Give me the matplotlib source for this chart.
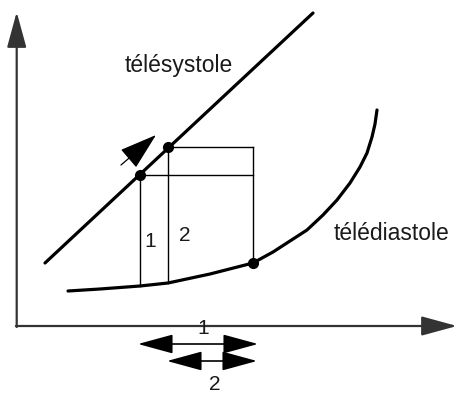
import matplotlib
matplotlib.use("Agg")
import matplotlib.pyplot as plt

# schematic drawn in pixel-like units (x to the right, y downwards)
systole_x = [45, 313]
systole_y = [263, 13]

diastole_x = [68, 100, 140, 168, 210, 253, 273, 290, 307, 323, 337, 350, 360, 367, 372, 375, 377]
diastole_y = [291, 289, 286, 283, 274, 263, 252, 241, 230, 215, 200, 183, 167, 153, 137, 124, 110]

# end-systolic points (1, 2) and end-diastolic point
es_x = [140, 168]
es_y = [175, 147]
ed_x = 253
ed_y = 263
# foot of each ejection line on the diastolic curve
foot_y = [286, 283]

labels_in = ["1", "2"]
labels_in_x = [150, 185]
labels_in_y = [241, 235]

# stroke volume arrows under the x axis
sv_left = [138, 167]
sv_right = [258, 257]
sv_y = [344, 361]
sv_labels = ["1", "2"]
sv_label_x = [203, 215]
sv_label_y = [329, 385]

plt.rcParams['font.family'] = ['Liberation Sans', 'DejaVu Sans']

fig = plt.figure(figsize=(4.59, 3.94), dpi=100)
ax = fig.add_axes([0, 0, 1, 1])
ax.set_xlim(0, 459)
ax.set_ylim(394, 0)
ax.axis('off')

axis_col = '#333333'
txt_col = '#1a1a1a'
# axes with arrowheads
ax.annotate('', xy=(16.7, 12), xytext=(16.7, 327),
            arrowprops=dict(arrowstyle='-|>,head_length=1.1,head_width=0.3', mutation_scale=20,
                            color=axis_col, lw=1.6, shrinkA=0, shrinkB=0))
ax.annotate('', xy=(457, 326), xytext=(15.9, 326),
            arrowprops=dict(arrowstyle='-|>,head_length=1.1,head_width=0.3', mutation_scale=20,
                            color=axis_col, lw=1.6, shrinkA=0, shrinkB=0))

# curves
ax.plot(systole_x, systole_y, color='black', lw=2.3, solid_capstyle='round')
ax.plot(diastole_x, diastole_y, color='black', lw=2.3, solid_capstyle='round',
        solid_joinstyle='round')

# box lines
for x, y, fy in zip(es_x, es_y, foot_y):
    ax.plot([x, x], [y, fy], color='black', lw=1.0)
    ax.plot([x, ed_x], [y, y], color='black', lw=1.0)
ax.plot([ed_x, ed_x], [min(es_y), ed_y], color='black', lw=1.0)

ax.plot(es_x + [ed_x], es_y + [ed_y], 'o', color='black', ms=7, ls='none')

# small arrow showing the shift of the end-systolic point
ax.annotate('', xy=(156, 135), xytext=(121, 165),
            arrowprops=dict(arrowstyle='-|>,head_length=1.2,head_width=0.38', mutation_scale=20,
                            color='black', lw=0.9, shrinkA=0, shrinkB=0))

for t, x, y in zip(labels_in, labels_in_x, labels_in_y):
    ax.text(x, y, t, ha='center', va='center', fontsize=15, color=txt_col)

ax.text(179, 65, 'télésystole', ha='center', va='center', fontsize=16.5, color=txt_col)
ax.text(334, 233, 'télédiastole', ha='left', va='center', fontsize=16.5, color=txt_col)

for l, r, y in zip(sv_left, sv_right, sv_y):
    ax.annotate('', xy=(r, y), xytext=(l, y),
                arrowprops=dict(arrowstyle='<|-|>,head_length=1.1,head_width=0.3', mutation_scale=20,
                                color='black', lw=1.2, shrinkA=0, shrinkB=0))
for t, x, y in zip(sv_labels, sv_label_x, sv_label_y):
    ax.text(x, y, t, ha='center', va='center', fontsize=15, color=txt_col)

fig.savefig('out.png', dpi=100)
